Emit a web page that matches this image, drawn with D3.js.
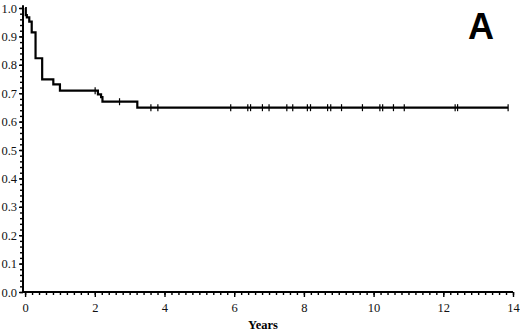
<!DOCTYPE html>
<html><head><meta charset="utf-8">
<script src="https://cdn.jsdelivr.net/npm/d3@7/dist/d3.min.js"></script>
<style>html,body{margin:0;padding:0;background:#fff;}svg{display:block;}</style>
</head><body>
<svg id="c" width="520" height="332"></svg>
<script>
// Kaplan-Meier step data
const eventTimes = [0.02, 0.05, 0.12, 0.19, 0.30, 0.49, 0.81, 1.00, 2.09, 2.18, 2.22, 3.22];
const survival   = [0.975, 0.967, 0.952, 0.914, 0.823, 0.749, 0.731, 0.709, 0.696, 0.686, 0.670, 0.649];
const censorTimes = [2.01, 2.71, 3.61, 3.81, 5.90, 6.39, 6.47, 6.81, 7.00, 7.51, 7.68, 8.10, 8.19, 8.68, 8.77, 9.08, 9.68, 10.18, 10.26, 10.57, 10.88, 12.34, 12.41, 13.86];
const endTime = 13.86;
const xTickValues = [0, 2, 4, 6, 8, 10, 12, 14];
const yTickValues = [0, 0.1, 0.2, 0.3, 0.4, 0.5, 0.6, 0.7, 0.8, 0.9, 1.0];
const xLabel = "Years";
const panelLabel = "A";

const svg = d3.select("#c");
const x = d3.scaleLinear().domain([-0.06, 14]).range([23, 513]);
const y = d3.scaleLinear().domain([0, 1]).range([292, 8]);

function surv(t) {
  let s = 1;
  for (let i = 0; i < eventTimes.length; i++) if (eventTimes[i] <= t) s = survival[i];
  return s;
}

// axes
const xMinor = d3.range(0, 14.001, 0.2);
const yMinor = d3.range(0, 1.0001, 0.02);
const gx = svg.append("g").attr("transform", `translate(0,${y(0)})`);
gx.call(d3.axisBottom(x).tickValues(xMinor).tickSize(3).tickFormat(""));
const gx2 = svg.append("g").attr("transform", `translate(0,${y(0)})`);
gx2.call(d3.axisBottom(x).tickValues(xTickValues).tickSize(5).tickPadding(8).tickFormat(d3.format("d")));
const gy = svg.append("g").attr("transform", `translate(${x(-0.06)},0)`);
gy.call(d3.axisLeft(y).tickValues(yMinor).tickSize(3).tickFormat(""));
const gy2 = svg.append("g").attr("transform", `translate(${x(-0.06)},0)`);
gy2.call(d3.axisLeft(y).tickValues(yTickValues).tickSize(4).tickPadding(2).tickFormat(d3.format(".1f")));
[gx, gx2, gy, gy2].forEach(g => {
  g.select(".domain").remove();
  g.selectAll("line").attr("stroke", "#000").attr("stroke-width", 1.4);
  g.selectAll("text").attr("font-family", "Liberation Serif, Times New Roman, serif").attr("font-size", 12.5).attr("fill", "#111");
});
// place x tick labels explicitly (baseline ~312)
gx2.selectAll("text").attr("y", null).attr("dy", null).attr("y", 20);
// axis lines
svg.append("line").attr("x1", x(-0.06)).attr("x2", x(14)).attr("y1", y(0)).attr("y2", y(0))
  .attr("stroke", "#000").attr("stroke-width", 2);
svg.append("line").attr("x1", x(-0.06)).attr("x2", x(-0.06)).attr("y1", y(0)).attr("y2", y(1.01))
  .attr("stroke", "#000").attr("stroke-width", 2);

// KM curve
const pts = [[0, 1]];
eventTimes.forEach((t, i) => pts.push([t, survival[i]]));
pts.push([endTime, surv(endTime)]);
const line = d3.line().x(d => x(d[0])).y(d => y(d[1])).curve(d3.curveStepAfter);
svg.append("path").datum(pts).attr("d", line).attr("fill", "none")
  .attr("stroke", "#000").attr("stroke-width", 2.2);

// censor marks
svg.selectAll(".cens").data(censorTimes).enter().append("line")
  .attr("x1", d => x(d)).attr("x2", d => x(d))
  .attr("y1", d => y(surv(d)) - 3.5).attr("y2", d => y(surv(d)) + 3.5)
  .attr("stroke", "#000").attr("stroke-width", 1.2);

// labels
svg.append("text").attr("x", 263).attr("y", 329).attr("text-anchor", "middle")
  .attr("font-family", "Liberation Serif, Times New Roman, serif").attr("font-weight", "bold")
  .attr("font-size", 12.5).text(xLabel);
svg.append("text").attr("x", 481).attr("y", 39).attr("text-anchor", "middle")
  .attr("font-family", "Liberation Sans, Arial, sans-serif").attr("font-weight", "bold")
  .attr("font-size", 36).text(panelLabel);
</script>
</body></html>
